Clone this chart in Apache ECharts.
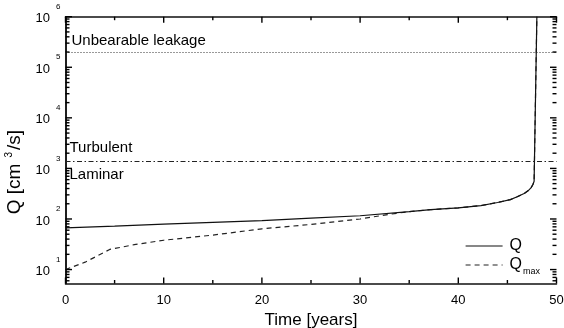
<!DOCTYPE html>
<html>
<head>
<meta charset="utf-8">
<script src="https://cdn.jsdelivr.net/npm/echarts@6/dist/echarts.min.js"></script>
<style>html,body{margin:0;padding:0;background:#fff}#c{width:564px;height:328px}</style>
</head>
<body>
<div id="c"></div>
<script>
// ---- data ----
const qYears   = [0, 5, 10, 15, 20, 25, 30, 35, 37.2, 40, 42.3, 44, 45.3, 46, 46.7, 47.1, 47.4, 47.6, 47.72, 48];
const qValues  = [66.7, 72, 79, 86, 93, 104, 116, 140, 153, 166, 184, 212, 242, 275, 318, 360, 412, 480, 556, 1000000];
const qMaxYears  = [0, 2, 4.5, 7, 10, 15, 20, 25, 30, 33, 35, 37.2, 40, 42.3, 44, 45.3, 46, 46.7, 47.1, 47.4, 47.6, 47.72, 48];
const qMaxValues = [10, 14, 25, 31, 38, 48, 64, 78, 100, 124, 140, 153, 166, 184, 212, 242, 275, 318, 360, 412, 480, 556, 1000000];
const unbearableLeakage = 200000;
const turbulentLimit = 1380;
const xTicks = [0, 10, 20, 30, 40, 50];
const xMinorTicks = [5, 15, 25, 35, 45];
const yExponents = [1, 2, 3, 4, 5, 6];
const yMinorMultipliers = [2, 3, 4, 5, 6, 7, 8, 9];

const xMin = 0, xMax = 50;
const yMin = 5.3, yMax = 1e6;
const majorY = yExponents.map(e => Math.pow(10, e));
const minorY = [];
[0, 1, 2, 3, 4, 5].forEach(e => yMinorMultipliers.forEach(m => {
  const v = m * Math.pow(10, e);
  if (v > yMin && v < yMax) minorY.push(v);
}));

const FONT = 'Liberation Sans, Arial, Helvetica, sans-serif';
const AX = '#000';
const TICK_W = 1.4;
const MAJOR_LEN = 6.5, MINOR_LEN = 4, XMAJOR_LEN = 6, XMINOR_LEN = 3.5;

// tick marks: [x, y, length, side]  side 0 = left/bottom, 1 = right/top
const yTickData = [];
[0, 1].forEach(side => {
  majorY.forEach(v => yTickData.push([side ? xMax : xMin, v, MAJOR_LEN, side]));
  minorY.forEach(v => yTickData.push([side ? xMax : xMin, v, MINOR_LEN, side]));
});
const xTickData = [];
[0, 1].forEach(side => {
  xTicks.forEach(t => xTickData.push([t, side ? yMax : yMin, XMAJOR_LEN, side]));
  xMinorTicks.forEach(t => xTickData.push([t, side ? yMax : yMin, XMINOR_LEN, side]));
});

function yAxisBase(pos, showLabel) {
  return {
    type: 'log', logBase: 10, min: yMin, max: yMax, position: pos,
    axisLine: { show: true, lineStyle: { color: '#111', width: 1.5 } },
    axisTick: { show: false },
    axisLabel: showLabel ? {
      show: true, customValues: majorY, margin: 5,
      formatter: v => '{b|10}{e|' + Math.round(Math.log10(v)) + '}',
      rich: {
        b: { fontSize: 13, fontFamily: FONT, color: '#000', padding: [4, 0, 0, 0] },
        e: { fontSize: 8, fontFamily: FONT, color: '#000', padding: [0, 0, 20, 6] }
      }
    } : { show: false },
    splitLine: { show: false }, minorTick: { show: false }
  };
}

function xAxisBase(pos, showLabel) {
  return {
    type: 'value', min: xMin, max: xMax, interval: 10, position: pos,
    axisLine: { show: true, lineStyle: { color: '#111', width: 1.5 } },
    axisTick: { show: false }, minorTick: { show: false },
    axisLabel: showLabel ? { show: true, margin: 10, fontSize: 13, fontFamily: FONT, color: '#000' } : { show: false },
    splitLine: { show: false }
  };
}

const yName = {
  name: '{a|Q [cm}{s|3}{a|/s]}', nameLocation: 'middle', nameRotate: 90, nameGap: 32,
  nameTextStyle: {
    padding: [0, 44, 0, 0],
    rich: {
      a: { fontSize: 19, fontFamily: FONT, color: '#000' },
      s: { fontSize: 10, fontFamily: FONT, color: '#000', padding: [0, 2, 12, 6] }
    }
  }
};

function tickRect(x, y, w, h) {
  return { type: 'rect', shape: { x, y, width: w, height: h }, style: { fill: AX } };
}

const chart = echarts.init(document.getElementById('c'), null, { renderer: 'canvas' });
chart.setOption({
  animation: false,
  backgroundColor: '#fff',
  grid: { left: 65.5, right: 7.5, top: 16.7, bottom: 44.5, outerBoundsMode: 'none', containLabel: false },
  xAxis: [
    Object.assign(xAxisBase('bottom', true), {
      name: 'Time [years]', nameLocation: 'middle', nameGap: 21,
      nameTextStyle: { fontSize: 17, fontFamily: FONT, color: '#000' }
    }),
    xAxisBase('top', false)
  ],
  yAxis: [
    Object.assign(yAxisBase('left', true), yName),
    yAxisBase('right', false)
  ],
  legend: [
    {
      data: ['Q'], left: 465, top: 238, padding: 0, itemWidth: 37, itemHeight: 14,
      itemStyle: { color: 'rgba(0,0,0,0)', borderWidth: 0, opacity: 0 },
      lineStyle: { width: 1.2 },
      formatter: () => '{q|Q}',
      textStyle: { rich: { q: { fontSize: 16, fontFamily: FONT, color: '#000', padding: [0, 0, 0, 2] } } }
    },
    {
      data: ['Qmax'], left: 465, top: 257, padding: 0, itemWidth: 37, itemHeight: 14,
      itemStyle: { color: 'rgba(0,0,0,0)', borderWidth: 0, opacity: 0 },
      lineStyle: { width: 1.2 },
      formatter: () => '{q|Q}{s|max}',
      textStyle: { rich: {
        q: { fontSize: 16, fontFamily: FONT, color: '#000', padding: [0, 0, 0, 2] },
        s: { fontSize: 9, fontFamily: FONT, color: '#000', padding: [14, 0, 0, 1] }
      } }
    }
  ],
  series: [
    {
      name: 'Qmax', type: 'line', xAxisIndex: 0, yAxisIndex: 0, symbol: 'none', silent: true,
      data: qMaxYears.map((t, i) => [t, qMaxValues[i]]),
      lineStyle: { color: '#222', width: 1.2, type: [5, 4] }, itemStyle: { color: '#222' }
    },
    {
      name: 'Q', type: 'line', xAxisIndex: 0, yAxisIndex: 0, symbol: 'none', silent: true,
      data: qYears.map((t, i) => [t, qValues[i]]),
      lineStyle: { color: '#111', width: 1.2 }, itemStyle: { color: '#111' },
      markLine: {
        silent: true, symbol: ['none', 'none'], animation: false,
        label: { color: '#000', fontSize: 15, fontFamily: FONT },
        data: [
          { yAxis: unbearableLeakage, lineStyle: { color: '#333', width: 1, type: [1, 2] },
            label: { formatter: 'Unbearable leakage', position: 'insideStartTop', distance: [6, 4] } },
          { yAxis: turbulentLimit, lineStyle: { color: '#222', width: 1, type: [5, 2.5, 1.5, 2.5] },
            label: { formatter: 'Turbulent', position: 'insideStartTop', distance: [4, 6] } },
          { yAxis: turbulentLimit, lineStyle: { color: 'rgba(0,0,0,0)', width: 1 },
            label: { formatter: 'Laminar', position: 'insideStartBottom', distance: [4, 6], color: '#000' } }
        ]
      }
    },
    {
      name: 'yTicks', type: 'custom', xAxisIndex: 0, yAxisIndex: 0, silent: true, z: 100, clip: false,
      encode: { x: 0, y: 1 }, data: yTickData,
      renderItem: (params, api) => {
        const p = api.coord([api.value(0), api.value(1)]);
        const len = api.value(2), side = api.value(3);
        const x = side ? p[0] - len : p[0];
        return tickRect(x, p[1] - TICK_W / 2, len, TICK_W);
      }
    },
    {
      name: 'xTicks', type: 'custom', xAxisIndex: 0, yAxisIndex: 0, silent: true, z: 100, clip: false,
      encode: { x: 0, y: 1 }, data: xTickData,
      renderItem: (params, api) => {
        const p = api.coord([api.value(0), api.value(1)]);
        const len = api.value(2), side = api.value(3);
        const y = side ? p[1] : p[1] - len;
        return tickRect(p[0] - TICK_W / 2, y, TICK_W, len);
      }
    }
  ]
});
</script>
</body>
</html>
